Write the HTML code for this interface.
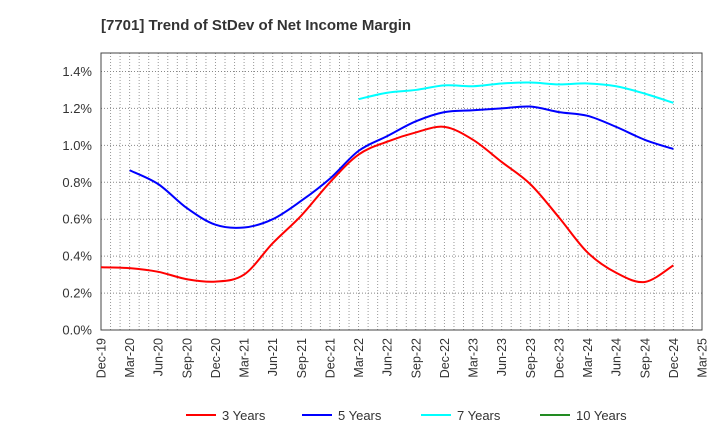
<!DOCTYPE html>
<html><head><meta charset="utf-8"><style>
body{margin:0;background:#fff;font-family:"Liberation Sans",Arial,sans-serif}
svg text{font-family:"Liberation Sans",Arial,sans-serif}
</style></head><body>
<svg id="c" width="720" height="440" xmlns="http://www.w3.org/2000/svg">
<text x="101" y="30" font-size="15" font-weight="bold" fill="#333">[7701]  Trend of StDev of Net Income Margin</text>
<g id="grid"></g><g id="axes"></g><g id="series"></g><g id="legend"></g>
</svg>
<script>
const xLabels=["Dec-19","Mar-20","Jun-20","Sep-20","Dec-20","Mar-21","Jun-21","Sep-21","Dec-21","Mar-22","Jun-22","Sep-22","Dec-22","Mar-23","Jun-23","Sep-23","Dec-23","Mar-24","Jun-24","Sep-24","Dec-24","Mar-25"];
const yTicks=[0,0.2,0.4,0.6,0.8,1.0,1.2,1.4];
const red3=[0.34,0.335,0.315,0.275,0.262,0.30,0.47,0.62,0.80,0.95,1.02,1.07,1.10,1.03,0.91,0.79,0.61,0.42,0.31,0.26,0.35];
const blue5=[0.865,0.79,0.66,0.57,0.555,0.60,0.70,0.82,0.97,1.05,1.13,1.18,1.19,1.20,1.21,1.18,1.16,1.10,1.03,0.98];
const cyan7=[1.25,1.285,1.30,1.325,1.32,1.335,1.34,1.33,1.335,1.32,1.28,1.23];
const green10=[];
const L=101,R=702,T=53,B=330,months=63,yMax=1.5;
const X=m=>L+(R-L)*m/months, Y=v=>B-(B-T)*v/yMax;
const NS="http://www.w3.org/2000/svg";
function mk(p,t,a){const e=document.createElementNS(NS,t);for(const k in a)e.setAttribute(k,a[k]);p.appendChild(e);return e;}
const grid=document.getElementById('grid'),axes=document.getElementById('axes'),ser=document.getElementById('series'),leg=document.getElementById('legend');
for(let m=1;m<months;m++){const l=mk(grid,'line',{x1:X(m),x2:X(m),y1:T,y2:B,stroke:'#999','stroke-width':1,'stroke-dasharray':'1,2'});

}
yTicks.slice(1).forEach(v=>{const l=mk(grid,'line',{x1:L,x2:R,y1:Y(v),y2:Y(v),stroke:'#888','stroke-width':1,'stroke-dasharray':'1,2'});

});
const fr=mk(axes,'rect',{x:L,y:T,width:R-L,height:B-T,fill:'none',stroke:'#444','stroke-width':1});


yTicks.forEach(v=>{const t=mk(axes,'text',{x:L-9,y:Y(v)+4.5,'font-size':13,'text-anchor':'end',fill:'#333'});t.textContent=v.toFixed(1)+'%';

});
xLabels.forEach((s,i)=>{const x=X(i*3);const t=mk(axes,'text',{x:0,y:0,'font-size':12.5,'text-anchor':'end',fill:'#333',transform:`translate(${x+4.5},${B+8}) rotate(-90)`});t.textContent=s;

});
function smooth(pts){let d=`M${pts[0][0]},${pts[0][1]}`;for(let i=0;i<pts.length-1;i++){const p0=pts[i-1]||pts[i],p1=pts[i],p2=pts[i+1],p3=pts[i+2]||p2;
d+=` C${p1[0]+(p2[0]-p0[0])/6},${p1[1]+(p2[1]-p0[1])/6} ${p2[0]-(p3[0]-p1[0])/6},${p2[1]-(p3[1]-p1[1])/6} ${p2[0]},${p2[1]}`;}return d;}
function line(arr,start,col,name){if(!arr.length)return;const pts=arr.map((v,i)=>[X(start+i*3),Y(v)]);const p=mk(ser,'path',{d:smooth(pts),fill:'none',stroke:col,'stroke-width':2});

}
line(red3,0,'#f00','series-3-years');
line(blue5,3,'#00f','series-5-years');
line(cyan7,27,'#0ff','series-7-years');
line(green10,48,'#228b22','series-10-years');
[["3 Years","#f00",186],["5 Years","#00f",302],["7 Years","#0ff",421],["10 Years","#228b22",540]].forEach(([s,c,x])=>{
const g=mk(leg,'g',{});


mk(g,'line',{x1:x,x2:x+30,y1:415,y2:415,stroke:c,'stroke-width':2});
const t=mk(g,'text',{x:x+36,y:420,'font-size':13,fill:'#333'});t.textContent=s;});
</script>
</body></html>
